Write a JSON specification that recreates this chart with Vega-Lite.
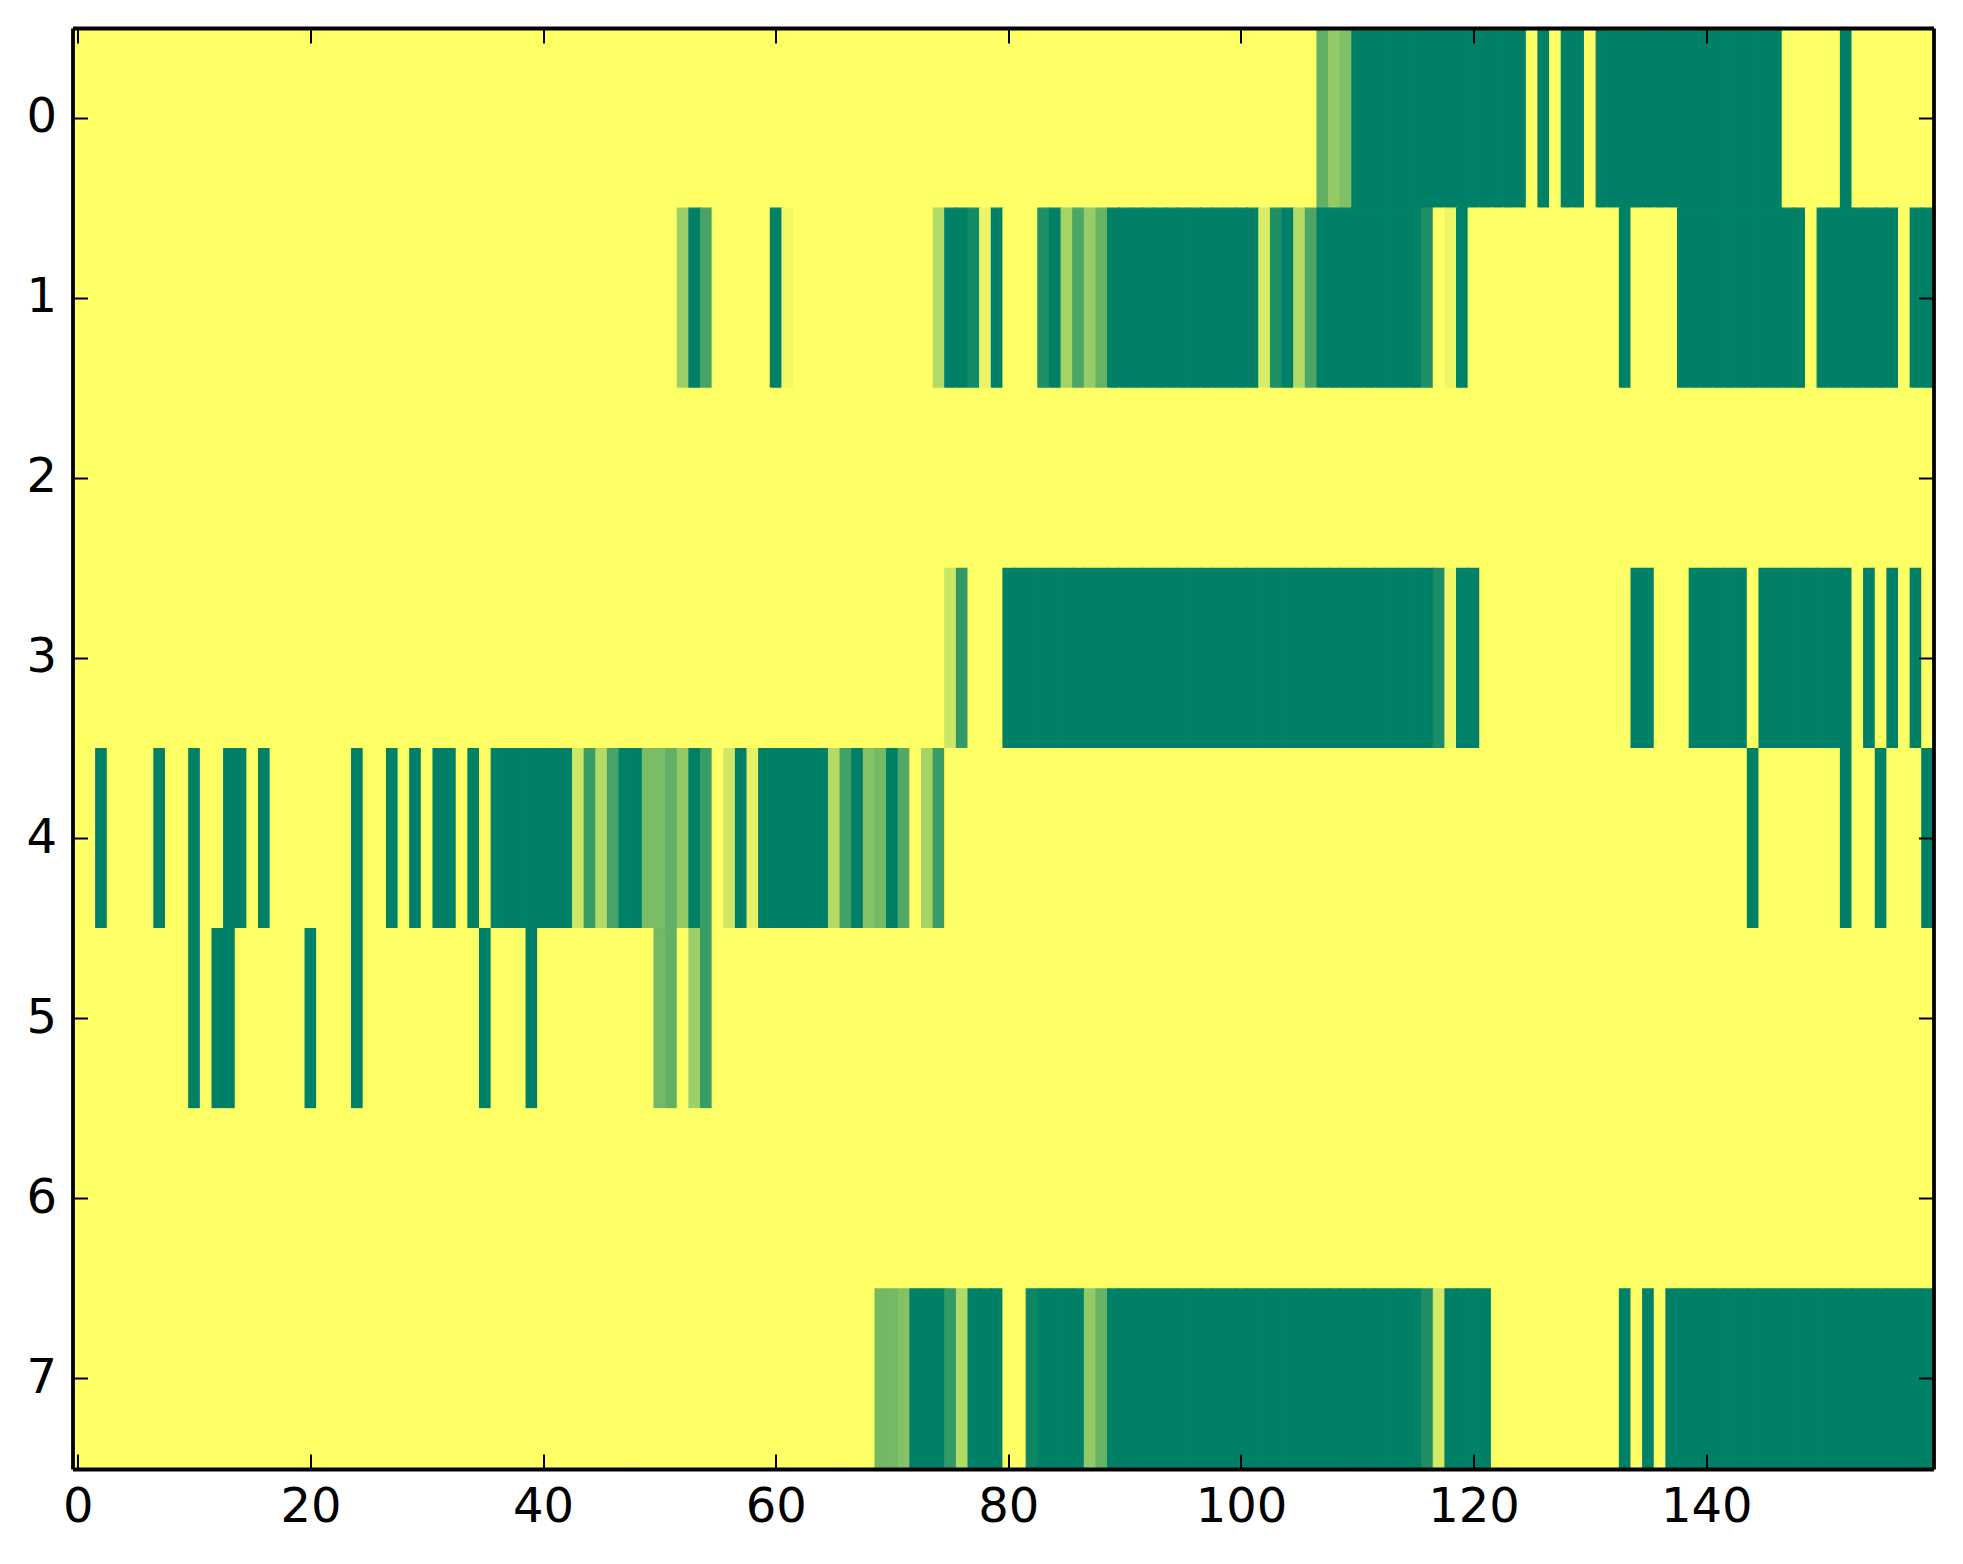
{"$schema":"https://vega.github.io/schema/vega-lite/v6.json","width":1861,"height":1441,"autosize":"none","padding":{"left":72.5,"top":28,"right":29.5,"bottom":95},"background":"white","config":{"view":{"stroke":null},"font":"DejaVu Sans"},"resolve":{"axis":{"x":"independent","y":"independent"}},"layer":[{"data":{"name":"cells"},"mark":{"type":"rect","strokeWidth":1.2},"encoding":{"x":{"field":"x","type":"ordinal","scale":{"paddingInner":0,"paddingOuter":0,"domain":[0,1,2,3,4,5,6,7,8,9,10,11,12,13,14,15,16,17,18,19,20,21,22,23,24,25,26,27,28,29,30,31,32,33,34,35,36,37,38,39,40,41,42,43,44,45,46,47,48,49,50,51,52,53,54,55,56,57,58,59,60,61,62,63,64,65,66,67,68,69,70,71,72,73,74,75,76,77,78,79,80,81,82,83,84,85,86,87,88,89,90,91,92,93,94,95,96,97,98,99,100,101,102,103,104,105,106,107,108,109,110,111,112,113,114,115,116,117,118,119,120,121,122,123,124,125,126,127,128,129,130,131,132,133,134,135,136,137,138,139,140,141,142,143,144,145,146,147,148,149,150,151,152,153,154,155,156,157,158,159]},"axis":{"orient":"bottom","title":null,"values":[0,20,40,60,80,100,120,140],"labelAngle":0,"labelFont":"DejaVu Sans","labelFontSize":48,"labelColor":"black","labelPadding":29,"labelBaseline":"top","tickSize":-15,"tickWidth":2,"tickColor":"black","domainWidth":3.8,"domainColor":"black","zindex":1,"grid":false}},"y":{"field":"y","type":"ordinal","scale":{"paddingInner":0,"paddingOuter":0,"domain":[0,1,2,3,4,5,6,7]},"axis":{"orient":"left","title":null,"labelFont":"DejaVu Sans","labelFontSize":48,"labelColor":"black","labelPadding":31,"tickSize":-15,"tickWidth":2,"tickColor":"black","domainWidth":3.8,"domainColor":"black","zindex":1,"grid":false}},"color":{"field":"v","type":"quantitative","scale":{"domain":[0,1],"range":["#ffff66","#008066"],"interpolate":"rgb"},"legend":null},"stroke":{"field":"v","type":"quantitative","scale":{"domain":[0,1],"range":["#ffff66","#008066"],"interpolate":"rgb"},"legend":null}}},{"data":{"values":[{"x":0,"y":0}]},"mark":{"type":"rect","opacity":0},"encoding":{"x":{"field":"x","type":"ordinal","axis":{"orient":"top","title":null,"values":[0,20,40,60,80,100,120,140],"labels":false,"tickSize":-15,"tickWidth":2,"tickColor":"black","domainWidth":3.8,"domainColor":"black","zindex":1,"grid":false}},"y":{"field":"y","type":"ordinal","axis":{"orient":"right","title":null,"labels":false,"tickSize":-15,"tickWidth":2,"tickColor":"black","domainWidth":3.8,"domainColor":"black","zindex":1,"grid":false}}}}],"datasets":{"cells":[
{"x":0,"y":0,"v":0},{"x":1,"y":0,"v":0},{"x":2,"y":0,"v":0},{"x":3,"y":0,"v":0},{"x":4,"y":0,"v":0},{"x":5,"y":0,"v":0},{"x":6,"y":0,"v":0},{"x":7,"y":0,"v":0},{"x":8,"y":0,"v":0},{"x":9,"y":0,"v":0},{"x":10,"y":0,"v":0},{"x":11,"y":0,"v":0},{"x":12,"y":0,"v":0},{"x":13,"y":0,"v":0},{"x":14,"y":0,"v":0},{"x":15,"y":0,"v":0},{"x":16,"y":0,"v":0},{"x":17,"y":0,"v":0},{"x":18,"y":0,"v":0},{"x":19,"y":0,"v":0},{"x":20,"y":0,"v":0},{"x":21,"y":0,"v":0},{"x":22,"y":0,"v":0},{"x":23,"y":0,"v":0},{"x":24,"y":0,"v":0},{"x":25,"y":0,"v":0},{"x":26,"y":0,"v":0},{"x":27,"y":0,"v":0},{"x":28,"y":0,"v":0},{"x":29,"y":0,"v":0},{"x":30,"y":0,"v":0},{"x":31,"y":0,"v":0},{"x":32,"y":0,"v":0},{"x":33,"y":0,"v":0},{"x":34,"y":0,"v":0},{"x":35,"y":0,"v":0},{"x":36,"y":0,"v":0},{"x":37,"y":0,"v":0},{"x":38,"y":0,"v":0},{"x":39,"y":0,"v":0},{"x":40,"y":0,"v":0},{"x":41,"y":0,"v":0},{"x":42,"y":0,"v":0},{"x":43,"y":0,"v":0},{"x":44,"y":0,"v":0},{"x":45,"y":0,"v":0},{"x":46,"y":0,"v":0},{"x":47,"y":0,"v":0},{"x":48,"y":0,"v":0},{"x":49,"y":0,"v":0},{"x":50,"y":0,"v":0},{"x":51,"y":0,"v":0},{"x":52,"y":0,"v":0},{"x":53,"y":0,"v":0},{"x":54,"y":0,"v":0},{"x":55,"y":0,"v":0},{"x":56,"y":0,"v":0},{"x":57,"y":0,"v":0},{"x":58,"y":0,"v":0},{"x":59,"y":0,"v":0},{"x":60,"y":0,"v":0},{"x":61,"y":0,"v":0},{"x":62,"y":0,"v":0},{"x":63,"y":0,"v":0},{"x":64,"y":0,"v":0},{"x":65,"y":0,"v":0},{"x":66,"y":0,"v":0},{"x":67,"y":0,"v":0},{"x":68,"y":0,"v":0},{"x":69,"y":0,"v":0},{"x":70,"y":0,"v":0},{"x":71,"y":0,"v":0},{"x":72,"y":0,"v":0},{"x":73,"y":0,"v":0},{"x":74,"y":0,"v":0},{"x":75,"y":0,"v":0},{"x":76,"y":0,"v":0},{"x":77,"y":0,"v":0},{"x":78,"y":0,"v":0},{"x":79,"y":0,"v":0},{"x":80,"y":0,"v":0},{"x":81,"y":0,"v":0},{"x":82,"y":0,"v":0},{"x":83,"y":0,"v":0},{"x":84,"y":0,"v":0},{"x":85,"y":0,"v":0},{"x":86,"y":0,"v":0},{"x":87,"y":0,"v":0},{"x":88,"y":0,"v":0},{"x":89,"y":0,"v":0},{"x":90,"y":0,"v":0},{"x":91,"y":0,"v":0},{"x":92,"y":0,"v":0},{"x":93,"y":0,"v":0},{"x":94,"y":0,"v":0},{"x":95,"y":0,"v":0},{"x":96,"y":0,"v":0},{"x":97,"y":0,"v":0},{"x":98,"y":0,"v":0},{"x":99,"y":0,"v":0},{"x":100,"y":0,"v":0},{"x":101,"y":0,"v":0},{"x":102,"y":0,"v":0},{"x":103,"y":0,"v":0},{"x":104,"y":0,"v":0},{"x":105,"y":0,"v":0},{"x":106,"y":0,"v":0},{"x":107,"y":0,"v":0.62},{"x":108,"y":0,"v":0.42},{"x":109,"y":0,"v":0.5},{"x":110,"y":0,"v":1},{"x":111,"y":0,"v":1},{"x":112,"y":0,"v":1},{"x":113,"y":0,"v":1},{"x":114,"y":0,"v":1},{"x":115,"y":0,"v":1},{"x":116,"y":0,"v":1},{"x":117,"y":0,"v":1},{"x":118,"y":0,"v":1},{"x":119,"y":0,"v":1},{"x":120,"y":0,"v":1},{"x":121,"y":0,"v":1},{"x":122,"y":0,"v":1},{"x":123,"y":0,"v":1},{"x":124,"y":0,"v":1},{"x":125,"y":0,"v":0},{"x":126,"y":0,"v":1},{"x":127,"y":0,"v":0},{"x":128,"y":0,"v":1},{"x":129,"y":0,"v":1},{"x":130,"y":0,"v":0},{"x":131,"y":0,"v":1},{"x":132,"y":0,"v":1},{"x":133,"y":0,"v":1},{"x":134,"y":0,"v":1},{"x":135,"y":0,"v":1},{"x":136,"y":0,"v":1},{"x":137,"y":0,"v":1},{"x":138,"y":0,"v":1},{"x":139,"y":0,"v":1},{"x":140,"y":0,"v":1},{"x":141,"y":0,"v":1},{"x":142,"y":0,"v":1},{"x":143,"y":0,"v":1},{"x":144,"y":0,"v":1},{"x":145,"y":0,"v":1},{"x":146,"y":0,"v":1},{"x":147,"y":0,"v":0},{"x":148,"y":0,"v":0},{"x":149,"y":0,"v":0},{"x":150,"y":0,"v":0},{"x":151,"y":0,"v":0},{"x":152,"y":0,"v":1},{"x":153,"y":0,"v":0},{"x":154,"y":0,"v":0},{"x":155,"y":0,"v":0},{"x":156,"y":0,"v":0},{"x":157,"y":0,"v":0},{"x":158,"y":0,"v":0},{"x":159,"y":0,"v":0},
{"x":0,"y":1,"v":0},{"x":1,"y":1,"v":0},{"x":2,"y":1,"v":0},{"x":3,"y":1,"v":0},{"x":4,"y":1,"v":0},{"x":5,"y":1,"v":0},{"x":6,"y":1,"v":0},{"x":7,"y":1,"v":0},{"x":8,"y":1,"v":0},{"x":9,"y":1,"v":0},{"x":10,"y":1,"v":0},{"x":11,"y":1,"v":0},{"x":12,"y":1,"v":0},{"x":13,"y":1,"v":0},{"x":14,"y":1,"v":0},{"x":15,"y":1,"v":0},{"x":16,"y":1,"v":0},{"x":17,"y":1,"v":0},{"x":18,"y":1,"v":0},{"x":19,"y":1,"v":0},{"x":20,"y":1,"v":0},{"x":21,"y":1,"v":0},{"x":22,"y":1,"v":0},{"x":23,"y":1,"v":0},{"x":24,"y":1,"v":0},{"x":25,"y":1,"v":0},{"x":26,"y":1,"v":0},{"x":27,"y":1,"v":0},{"x":28,"y":1,"v":0},{"x":29,"y":1,"v":0},{"x":30,"y":1,"v":0},{"x":31,"y":1,"v":0},{"x":32,"y":1,"v":0},{"x":33,"y":1,"v":0},{"x":34,"y":1,"v":0},{"x":35,"y":1,"v":0},{"x":36,"y":1,"v":0},{"x":37,"y":1,"v":0},{"x":38,"y":1,"v":0},{"x":39,"y":1,"v":0},{"x":40,"y":1,"v":0},{"x":41,"y":1,"v":0},{"x":42,"y":1,"v":0},{"x":43,"y":1,"v":0},{"x":44,"y":1,"v":0},{"x":45,"y":1,"v":0},{"x":46,"y":1,"v":0},{"x":47,"y":1,"v":0},{"x":48,"y":1,"v":0},{"x":49,"y":1,"v":0},{"x":50,"y":1,"v":0},{"x":51,"y":1,"v":0},{"x":52,"y":1,"v":0.38},{"x":53,"y":1,"v":1},{"x":54,"y":1,"v":0.72},{"x":55,"y":1,"v":0},{"x":56,"y":1,"v":0},{"x":57,"y":1,"v":0},{"x":58,"y":1,"v":0},{"x":59,"y":1,"v":0},{"x":60,"y":1,"v":1},{"x":61,"y":1,"v":0.05},{"x":62,"y":1,"v":0},{"x":63,"y":1,"v":0},{"x":64,"y":1,"v":0},{"x":65,"y":1,"v":0},{"x":66,"y":1,"v":0},{"x":67,"y":1,"v":0},{"x":68,"y":1,"v":0},{"x":69,"y":1,"v":0},{"x":70,"y":1,"v":0},{"x":71,"y":1,"v":0},{"x":72,"y":1,"v":0},{"x":73,"y":1,"v":0},{"x":74,"y":1,"v":0.3},{"x":75,"y":1,"v":1},{"x":76,"y":1,"v":1},{"x":77,"y":1,"v":0.92},{"x":78,"y":1,"v":0.08},{"x":79,"y":1,"v":1},{"x":80,"y":1,"v":0},{"x":81,"y":1,"v":0},{"x":82,"y":1,"v":0},{"x":83,"y":1,"v":0.88},{"x":84,"y":1,"v":1},{"x":85,"y":1,"v":0.35},{"x":86,"y":1,"v":0.7},{"x":87,"y":1,"v":0.4},{"x":88,"y":1,"v":0.6},{"x":89,"y":1,"v":1},{"x":90,"y":1,"v":1},{"x":91,"y":1,"v":1},{"x":92,"y":1,"v":1},{"x":93,"y":1,"v":1},{"x":94,"y":1,"v":1},{"x":95,"y":1,"v":1},{"x":96,"y":1,"v":1},{"x":97,"y":1,"v":1},{"x":98,"y":1,"v":1},{"x":99,"y":1,"v":1},{"x":100,"y":1,"v":1},{"x":101,"y":1,"v":1},{"x":102,"y":1,"v":0.15},{"x":103,"y":1,"v":0.88},{"x":104,"y":1,"v":1},{"x":105,"y":1,"v":0.3},{"x":106,"y":1,"v":0.7},{"x":107,"y":1,"v":1},{"x":108,"y":1,"v":1},{"x":109,"y":1,"v":1},{"x":110,"y":1,"v":1},{"x":111,"y":1,"v":1},{"x":112,"y":1,"v":1},{"x":113,"y":1,"v":1},{"x":114,"y":1,"v":1},{"x":115,"y":1,"v":1},{"x":116,"y":1,"v":0.88},{"x":117,"y":1,"v":0},{"x":118,"y":1,"v":0.07},{"x":119,"y":1,"v":1},{"x":120,"y":1,"v":0},{"x":121,"y":1,"v":0},{"x":122,"y":1,"v":0},{"x":123,"y":1,"v":0},{"x":124,"y":1,"v":0},{"x":125,"y":1,"v":0},{"x":126,"y":1,"v":0},{"x":127,"y":1,"v":0},{"x":128,"y":1,"v":0},{"x":129,"y":1,"v":0},{"x":130,"y":1,"v":0},{"x":131,"y":1,"v":0},{"x":132,"y":1,"v":0},{"x":133,"y":1,"v":1},{"x":134,"y":1,"v":0},{"x":135,"y":1,"v":0},{"x":136,"y":1,"v":0},{"x":137,"y":1,"v":0},{"x":138,"y":1,"v":1},{"x":139,"y":1,"v":1},{"x":140,"y":1,"v":1},{"x":141,"y":1,"v":1},{"x":142,"y":1,"v":1},{"x":143,"y":1,"v":1},{"x":144,"y":1,"v":1},{"x":145,"y":1,"v":1},{"x":146,"y":1,"v":1},{"x":147,"y":1,"v":1},{"x":148,"y":1,"v":1},{"x":149,"y":1,"v":0},{"x":150,"y":1,"v":1},{"x":151,"y":1,"v":1},{"x":152,"y":1,"v":1},{"x":153,"y":1,"v":1},{"x":154,"y":1,"v":1},{"x":155,"y":1,"v":1},{"x":156,"y":1,"v":1},{"x":157,"y":1,"v":0},{"x":158,"y":1,"v":1},{"x":159,"y":1,"v":1},
{"x":0,"y":2,"v":0},{"x":1,"y":2,"v":0},{"x":2,"y":2,"v":0},{"x":3,"y":2,"v":0},{"x":4,"y":2,"v":0},{"x":5,"y":2,"v":0},{"x":6,"y":2,"v":0},{"x":7,"y":2,"v":0},{"x":8,"y":2,"v":0},{"x":9,"y":2,"v":0},{"x":10,"y":2,"v":0},{"x":11,"y":2,"v":0},{"x":12,"y":2,"v":0},{"x":13,"y":2,"v":0},{"x":14,"y":2,"v":0},{"x":15,"y":2,"v":0},{"x":16,"y":2,"v":0},{"x":17,"y":2,"v":0},{"x":18,"y":2,"v":0},{"x":19,"y":2,"v":0},{"x":20,"y":2,"v":0},{"x":21,"y":2,"v":0},{"x":22,"y":2,"v":0},{"x":23,"y":2,"v":0},{"x":24,"y":2,"v":0},{"x":25,"y":2,"v":0},{"x":26,"y":2,"v":0},{"x":27,"y":2,"v":0},{"x":28,"y":2,"v":0},{"x":29,"y":2,"v":0},{"x":30,"y":2,"v":0},{"x":31,"y":2,"v":0},{"x":32,"y":2,"v":0},{"x":33,"y":2,"v":0},{"x":34,"y":2,"v":0},{"x":35,"y":2,"v":0},{"x":36,"y":2,"v":0},{"x":37,"y":2,"v":0},{"x":38,"y":2,"v":0},{"x":39,"y":2,"v":0},{"x":40,"y":2,"v":0},{"x":41,"y":2,"v":0},{"x":42,"y":2,"v":0},{"x":43,"y":2,"v":0},{"x":44,"y":2,"v":0},{"x":45,"y":2,"v":0},{"x":46,"y":2,"v":0},{"x":47,"y":2,"v":0},{"x":48,"y":2,"v":0},{"x":49,"y":2,"v":0},{"x":50,"y":2,"v":0},{"x":51,"y":2,"v":0},{"x":52,"y":2,"v":0},{"x":53,"y":2,"v":0},{"x":54,"y":2,"v":0},{"x":55,"y":2,"v":0},{"x":56,"y":2,"v":0},{"x":57,"y":2,"v":0},{"x":58,"y":2,"v":0},{"x":59,"y":2,"v":0},{"x":60,"y":2,"v":0},{"x":61,"y":2,"v":0},{"x":62,"y":2,"v":0},{"x":63,"y":2,"v":0},{"x":64,"y":2,"v":0},{"x":65,"y":2,"v":0},{"x":66,"y":2,"v":0},{"x":67,"y":2,"v":0},{"x":68,"y":2,"v":0},{"x":69,"y":2,"v":0},{"x":70,"y":2,"v":0},{"x":71,"y":2,"v":0},{"x":72,"y":2,"v":0},{"x":73,"y":2,"v":0},{"x":74,"y":2,"v":0},{"x":75,"y":2,"v":0},{"x":76,"y":2,"v":0},{"x":77,"y":2,"v":0},{"x":78,"y":2,"v":0},{"x":79,"y":2,"v":0},{"x":80,"y":2,"v":0},{"x":81,"y":2,"v":0},{"x":82,"y":2,"v":0},{"x":83,"y":2,"v":0},{"x":84,"y":2,"v":0},{"x":85,"y":2,"v":0},{"x":86,"y":2,"v":0},{"x":87,"y":2,"v":0},{"x":88,"y":2,"v":0},{"x":89,"y":2,"v":0},{"x":90,"y":2,"v":0},{"x":91,"y":2,"v":0},{"x":92,"y":2,"v":0},{"x":93,"y":2,"v":0},{"x":94,"y":2,"v":0},{"x":95,"y":2,"v":0},{"x":96,"y":2,"v":0},{"x":97,"y":2,"v":0},{"x":98,"y":2,"v":0},{"x":99,"y":2,"v":0},{"x":100,"y":2,"v":0},{"x":101,"y":2,"v":0},{"x":102,"y":2,"v":0},{"x":103,"y":2,"v":0},{"x":104,"y":2,"v":0},{"x":105,"y":2,"v":0},{"x":106,"y":2,"v":0},{"x":107,"y":2,"v":0},{"x":108,"y":2,"v":0},{"x":109,"y":2,"v":0},{"x":110,"y":2,"v":0},{"x":111,"y":2,"v":0},{"x":112,"y":2,"v":0},{"x":113,"y":2,"v":0},{"x":114,"y":2,"v":0},{"x":115,"y":2,"v":0},{"x":116,"y":2,"v":0},{"x":117,"y":2,"v":0},{"x":118,"y":2,"v":0},{"x":119,"y":2,"v":0},{"x":120,"y":2,"v":0},{"x":121,"y":2,"v":0},{"x":122,"y":2,"v":0},{"x":123,"y":2,"v":0},{"x":124,"y":2,"v":0},{"x":125,"y":2,"v":0},{"x":126,"y":2,"v":0},{"x":127,"y":2,"v":0},{"x":128,"y":2,"v":0},{"x":129,"y":2,"v":0},{"x":130,"y":2,"v":0},{"x":131,"y":2,"v":0},{"x":132,"y":2,"v":0},{"x":133,"y":2,"v":0},{"x":134,"y":2,"v":0},{"x":135,"y":2,"v":0},{"x":136,"y":2,"v":0},{"x":137,"y":2,"v":0},{"x":138,"y":2,"v":0},{"x":139,"y":2,"v":0},{"x":140,"y":2,"v":0},{"x":141,"y":2,"v":0},{"x":142,"y":2,"v":0},{"x":143,"y":2,"v":0},{"x":144,"y":2,"v":0},{"x":145,"y":2,"v":0},{"x":146,"y":2,"v":0},{"x":147,"y":2,"v":0},{"x":148,"y":2,"v":0},{"x":149,"y":2,"v":0},{"x":150,"y":2,"v":0},{"x":151,"y":2,"v":0},{"x":152,"y":2,"v":0},{"x":153,"y":2,"v":0},{"x":154,"y":2,"v":0},{"x":155,"y":2,"v":0},{"x":156,"y":2,"v":0},{"x":157,"y":2,"v":0},{"x":158,"y":2,"v":0},{"x":159,"y":2,"v":0},
{"x":0,"y":3,"v":0},{"x":1,"y":3,"v":0},{"x":2,"y":3,"v":0},{"x":3,"y":3,"v":0},{"x":4,"y":3,"v":0},{"x":5,"y":3,"v":0},{"x":6,"y":3,"v":0},{"x":7,"y":3,"v":0},{"x":8,"y":3,"v":0},{"x":9,"y":3,"v":0},{"x":10,"y":3,"v":0},{"x":11,"y":3,"v":0},{"x":12,"y":3,"v":0},{"x":13,"y":3,"v":0},{"x":14,"y":3,"v":0},{"x":15,"y":3,"v":0},{"x":16,"y":3,"v":0},{"x":17,"y":3,"v":0},{"x":18,"y":3,"v":0},{"x":19,"y":3,"v":0},{"x":20,"y":3,"v":0},{"x":21,"y":3,"v":0},{"x":22,"y":3,"v":0},{"x":23,"y":3,"v":0},{"x":24,"y":3,"v":0},{"x":25,"y":3,"v":0},{"x":26,"y":3,"v":0},{"x":27,"y":3,"v":0},{"x":28,"y":3,"v":0},{"x":29,"y":3,"v":0},{"x":30,"y":3,"v":0},{"x":31,"y":3,"v":0},{"x":32,"y":3,"v":0},{"x":33,"y":3,"v":0},{"x":34,"y":3,"v":0},{"x":35,"y":3,"v":0},{"x":36,"y":3,"v":0},{"x":37,"y":3,"v":0},{"x":38,"y":3,"v":0},{"x":39,"y":3,"v":0},{"x":40,"y":3,"v":0},{"x":41,"y":3,"v":0},{"x":42,"y":3,"v":0},{"x":43,"y":3,"v":0},{"x":44,"y":3,"v":0},{"x":45,"y":3,"v":0},{"x":46,"y":3,"v":0},{"x":47,"y":3,"v":0},{"x":48,"y":3,"v":0},{"x":49,"y":3,"v":0},{"x":50,"y":3,"v":0},{"x":51,"y":3,"v":0},{"x":52,"y":3,"v":0},{"x":53,"y":3,"v":0},{"x":54,"y":3,"v":0},{"x":55,"y":3,"v":0},{"x":56,"y":3,"v":0},{"x":57,"y":3,"v":0},{"x":58,"y":3,"v":0},{"x":59,"y":3,"v":0},{"x":60,"y":3,"v":0},{"x":61,"y":3,"v":0},{"x":62,"y":3,"v":0},{"x":63,"y":3,"v":0},{"x":64,"y":3,"v":0},{"x":65,"y":3,"v":0},{"x":66,"y":3,"v":0},{"x":67,"y":3,"v":0},{"x":68,"y":3,"v":0},{"x":69,"y":3,"v":0},{"x":70,"y":3,"v":0},{"x":71,"y":3,"v":0},{"x":72,"y":3,"v":0},{"x":73,"y":3,"v":0},{"x":74,"y":3,"v":0},{"x":75,"y":3,"v":0.2},{"x":76,"y":3,"v":0.8},{"x":77,"y":3,"v":0},{"x":78,"y":3,"v":0},{"x":79,"y":3,"v":0},{"x":80,"y":3,"v":1},{"x":81,"y":3,"v":1},{"x":82,"y":3,"v":1},{"x":83,"y":3,"v":1},{"x":84,"y":3,"v":1},{"x":85,"y":3,"v":1},{"x":86,"y":3,"v":1},{"x":87,"y":3,"v":1},{"x":88,"y":3,"v":1},{"x":89,"y":3,"v":1},{"x":90,"y":3,"v":1},{"x":91,"y":3,"v":1},{"x":92,"y":3,"v":1},{"x":93,"y":3,"v":1},{"x":94,"y":3,"v":1},{"x":95,"y":3,"v":1},{"x":96,"y":3,"v":1},{"x":97,"y":3,"v":1},{"x":98,"y":3,"v":1},{"x":99,"y":3,"v":1},{"x":100,"y":3,"v":1},{"x":101,"y":3,"v":1},{"x":102,"y":3,"v":1},{"x":103,"y":3,"v":1},{"x":104,"y":3,"v":1},{"x":105,"y":3,"v":1},{"x":106,"y":3,"v":1},{"x":107,"y":3,"v":1},{"x":108,"y":3,"v":1},{"x":109,"y":3,"v":1},{"x":110,"y":3,"v":1},{"x":111,"y":3,"v":1},{"x":112,"y":3,"v":1},{"x":113,"y":3,"v":1},{"x":114,"y":3,"v":1},{"x":115,"y":3,"v":1},{"x":116,"y":3,"v":1},{"x":117,"y":3,"v":0.9},{"x":118,"y":3,"v":0.06},{"x":119,"y":3,"v":1},{"x":120,"y":3,"v":1},{"x":121,"y":3,"v":0},{"x":122,"y":3,"v":0},{"x":123,"y":3,"v":0},{"x":124,"y":3,"v":0},{"x":125,"y":3,"v":0},{"x":126,"y":3,"v":0},{"x":127,"y":3,"v":0},{"x":128,"y":3,"v":0},{"x":129,"y":3,"v":0},{"x":130,"y":3,"v":0},{"x":131,"y":3,"v":0},{"x":132,"y":3,"v":0},{"x":133,"y":3,"v":0},{"x":134,"y":3,"v":1},{"x":135,"y":3,"v":1},{"x":136,"y":3,"v":0},{"x":137,"y":3,"v":0},{"x":138,"y":3,"v":0},{"x":139,"y":3,"v":1},{"x":140,"y":3,"v":1},{"x":141,"y":3,"v":1},{"x":142,"y":3,"v":1},{"x":143,"y":3,"v":1},{"x":144,"y":3,"v":0},{"x":145,"y":3,"v":1},{"x":146,"y":3,"v":1},{"x":147,"y":3,"v":1},{"x":148,"y":3,"v":1},{"x":149,"y":3,"v":1},{"x":150,"y":3,"v":1},{"x":151,"y":3,"v":1},{"x":152,"y":3,"v":1},{"x":153,"y":3,"v":0},{"x":154,"y":3,"v":1},{"x":155,"y":3,"v":0},{"x":156,"y":3,"v":1},{"x":157,"y":3,"v":0},{"x":158,"y":3,"v":1},{"x":159,"y":3,"v":0},
{"x":0,"y":4,"v":0},{"x":1,"y":4,"v":0},{"x":2,"y":4,"v":1},{"x":3,"y":4,"v":0},{"x":4,"y":4,"v":0},{"x":5,"y":4,"v":0},{"x":6,"y":4,"v":0},{"x":7,"y":4,"v":1},{"x":8,"y":4,"v":0},{"x":9,"y":4,"v":0},{"x":10,"y":4,"v":1},{"x":11,"y":4,"v":0},{"x":12,"y":4,"v":0},{"x":13,"y":4,"v":1},{"x":14,"y":4,"v":1},{"x":15,"y":4,"v":0},{"x":16,"y":4,"v":1},{"x":17,"y":4,"v":0},{"x":18,"y":4,"v":0},{"x":19,"y":4,"v":0},{"x":20,"y":4,"v":0},{"x":21,"y":4,"v":0},{"x":22,"y":4,"v":0},{"x":23,"y":4,"v":0},{"x":24,"y":4,"v":1},{"x":25,"y":4,"v":0},{"x":26,"y":4,"v":0},{"x":27,"y":4,"v":1},{"x":28,"y":4,"v":0},{"x":29,"y":4,"v":1},{"x":30,"y":4,"v":0},{"x":31,"y":4,"v":1},{"x":32,"y":4,"v":1},{"x":33,"y":4,"v":0},{"x":34,"y":4,"v":1},{"x":35,"y":4,"v":0},{"x":36,"y":4,"v":1},{"x":37,"y":4,"v":1},{"x":38,"y":4,"v":1},{"x":39,"y":4,"v":1},{"x":40,"y":4,"v":1},{"x":41,"y":4,"v":1},{"x":42,"y":4,"v":1},{"x":43,"y":4,"v":0.2},{"x":44,"y":4,"v":0.78},{"x":45,"y":4,"v":0.3},{"x":46,"y":4,"v":0.72},{"x":47,"y":4,"v":1},{"x":48,"y":4,"v":1},{"x":49,"y":4,"v":0.52},{"x":50,"y":4,"v":0.52},{"x":51,"y":4,"v":0.62},{"x":52,"y":4,"v":0.42},{"x":53,"y":4,"v":1},{"x":54,"y":4,"v":0.78},{"x":55,"y":4,"v":0},{"x":56,"y":4,"v":0.18},{"x":57,"y":4,"v":1},{"x":58,"y":4,"v":0.1},{"x":59,"y":4,"v":1},{"x":60,"y":4,"v":1},{"x":61,"y":4,"v":1},{"x":62,"y":4,"v":1},{"x":63,"y":4,"v":1},{"x":64,"y":4,"v":1},{"x":65,"y":4,"v":0.3},{"x":66,"y":4,"v":0.75},{"x":67,"y":4,"v":1},{"x":68,"y":4,"v":0.48},{"x":69,"y":4,"v":0.55},{"x":70,"y":4,"v":1},{"x":71,"y":4,"v":0.68},{"x":72,"y":4,"v":0},{"x":73,"y":4,"v":0.35},{"x":74,"y":4,"v":0.78},{"x":75,"y":4,"v":0},{"x":76,"y":4,"v":0},{"x":77,"y":4,"v":0},{"x":78,"y":4,"v":0},{"x":79,"y":4,"v":0},{"x":80,"y":4,"v":0},{"x":81,"y":4,"v":0},{"x":82,"y":4,"v":0},{"x":83,"y":4,"v":0},{"x":84,"y":4,"v":0},{"x":85,"y":4,"v":0},{"x":86,"y":4,"v":0},{"x":87,"y":4,"v":0},{"x":88,"y":4,"v":0},{"x":89,"y":4,"v":0},{"x":90,"y":4,"v":0},{"x":91,"y":4,"v":0},{"x":92,"y":4,"v":0},{"x":93,"y":4,"v":0},{"x":94,"y":4,"v":0},{"x":95,"y":4,"v":0},{"x":96,"y":4,"v":0},{"x":97,"y":4,"v":0},{"x":98,"y":4,"v":0},{"x":99,"y":4,"v":0},{"x":100,"y":4,"v":0},{"x":101,"y":4,"v":0},{"x":102,"y":4,"v":0},{"x":103,"y":4,"v":0},{"x":104,"y":4,"v":0},{"x":105,"y":4,"v":0},{"x":106,"y":4,"v":0},{"x":107,"y":4,"v":0},{"x":108,"y":4,"v":0},{"x":109,"y":4,"v":0},{"x":110,"y":4,"v":0},{"x":111,"y":4,"v":0},{"x":112,"y":4,"v":0},{"x":113,"y":4,"v":0},{"x":114,"y":4,"v":0},{"x":115,"y":4,"v":0},{"x":116,"y":4,"v":0},{"x":117,"y":4,"v":0},{"x":118,"y":4,"v":0},{"x":119,"y":4,"v":0},{"x":120,"y":4,"v":0},{"x":121,"y":4,"v":0},{"x":122,"y":4,"v":0},{"x":123,"y":4,"v":0},{"x":124,"y":4,"v":0},{"x":125,"y":4,"v":0},{"x":126,"y":4,"v":0},{"x":127,"y":4,"v":0},{"x":128,"y":4,"v":0},{"x":129,"y":4,"v":0},{"x":130,"y":4,"v":0},{"x":131,"y":4,"v":0},{"x":132,"y":4,"v":0},{"x":133,"y":4,"v":0},{"x":134,"y":4,"v":0},{"x":135,"y":4,"v":0},{"x":136,"y":4,"v":0},{"x":137,"y":4,"v":0},{"x":138,"y":4,"v":0},{"x":139,"y":4,"v":0},{"x":140,"y":4,"v":0},{"x":141,"y":4,"v":0},{"x":142,"y":4,"v":0},{"x":143,"y":4,"v":0},{"x":144,"y":4,"v":1},{"x":145,"y":4,"v":0},{"x":146,"y":4,"v":0},{"x":147,"y":4,"v":0},{"x":148,"y":4,"v":0},{"x":149,"y":4,"v":0},{"x":150,"y":4,"v":0},{"x":151,"y":4,"v":0},{"x":152,"y":4,"v":1},{"x":153,"y":4,"v":0},{"x":154,"y":4,"v":0},{"x":155,"y":4,"v":1},{"x":156,"y":4,"v":0},{"x":157,"y":4,"v":0},{"x":158,"y":4,"v":0},{"x":159,"y":4,"v":1},
{"x":0,"y":5,"v":0},{"x":1,"y":5,"v":0},{"x":2,"y":5,"v":0},{"x":3,"y":5,"v":0},{"x":4,"y":5,"v":0},{"x":5,"y":5,"v":0},{"x":6,"y":5,"v":0},{"x":7,"y":5,"v":0},{"x":8,"y":5,"v":0},{"x":9,"y":5,"v":0},{"x":10,"y":5,"v":1},{"x":11,"y":5,"v":0},{"x":12,"y":5,"v":1},{"x":13,"y":5,"v":1},{"x":14,"y":5,"v":0},{"x":15,"y":5,"v":0},{"x":16,"y":5,"v":0},{"x":17,"y":5,"v":0},{"x":18,"y":5,"v":0},{"x":19,"y":5,"v":0},{"x":20,"y":5,"v":1},{"x":21,"y":5,"v":0},{"x":22,"y":5,"v":0},{"x":23,"y":5,"v":0},{"x":24,"y":5,"v":1},{"x":25,"y":5,"v":0},{"x":26,"y":5,"v":0},{"x":27,"y":5,"v":0},{"x":28,"y":5,"v":0},{"x":29,"y":5,"v":0},{"x":30,"y":5,"v":0},{"x":31,"y":5,"v":0},{"x":32,"y":5,"v":0},{"x":33,"y":5,"v":0},{"x":34,"y":5,"v":0},{"x":35,"y":5,"v":1},{"x":36,"y":5,"v":0},{"x":37,"y":5,"v":0},{"x":38,"y":5,"v":0},{"x":39,"y":5,"v":1},{"x":40,"y":5,"v":0},{"x":41,"y":5,"v":0},{"x":42,"y":5,"v":0},{"x":43,"y":5,"v":0},{"x":44,"y":5,"v":0},{"x":45,"y":5,"v":0},{"x":46,"y":5,"v":0},{"x":47,"y":5,"v":0},{"x":48,"y":5,"v":0},{"x":49,"y":5,"v":0},{"x":50,"y":5,"v":0.55},{"x":51,"y":5,"v":0.62},{"x":52,"y":5,"v":0},{"x":53,"y":5,"v":0.38},{"x":54,"y":5,"v":0.78},{"x":55,"y":5,"v":0},{"x":56,"y":5,"v":0},{"x":57,"y":5,"v":0},{"x":58,"y":5,"v":0},{"x":59,"y":5,"v":0},{"x":60,"y":5,"v":0},{"x":61,"y":5,"v":0},{"x":62,"y":5,"v":0},{"x":63,"y":5,"v":0},{"x":64,"y":5,"v":0},{"x":65,"y":5,"v":0},{"x":66,"y":5,"v":0},{"x":67,"y":5,"v":0},{"x":68,"y":5,"v":0},{"x":69,"y":5,"v":0},{"x":70,"y":5,"v":0},{"x":71,"y":5,"v":0},{"x":72,"y":5,"v":0},{"x":73,"y":5,"v":0},{"x":74,"y":5,"v":0},{"x":75,"y":5,"v":0},{"x":76,"y":5,"v":0},{"x":77,"y":5,"v":0},{"x":78,"y":5,"v":0},{"x":79,"y":5,"v":0},{"x":80,"y":5,"v":0},{"x":81,"y":5,"v":0},{"x":82,"y":5,"v":0},{"x":83,"y":5,"v":0},{"x":84,"y":5,"v":0},{"x":85,"y":5,"v":0},{"x":86,"y":5,"v":0},{"x":87,"y":5,"v":0},{"x":88,"y":5,"v":0},{"x":89,"y":5,"v":0},{"x":90,"y":5,"v":0},{"x":91,"y":5,"v":0},{"x":92,"y":5,"v":0},{"x":93,"y":5,"v":0},{"x":94,"y":5,"v":0},{"x":95,"y":5,"v":0},{"x":96,"y":5,"v":0},{"x":97,"y":5,"v":0},{"x":98,"y":5,"v":0},{"x":99,"y":5,"v":0},{"x":100,"y":5,"v":0},{"x":101,"y":5,"v":0},{"x":102,"y":5,"v":0},{"x":103,"y":5,"v":0},{"x":104,"y":5,"v":0},{"x":105,"y":5,"v":0},{"x":106,"y":5,"v":0},{"x":107,"y":5,"v":0},{"x":108,"y":5,"v":0},{"x":109,"y":5,"v":0},{"x":110,"y":5,"v":0},{"x":111,"y":5,"v":0},{"x":112,"y":5,"v":0},{"x":113,"y":5,"v":0},{"x":114,"y":5,"v":0},{"x":115,"y":5,"v":0},{"x":116,"y":5,"v":0},{"x":117,"y":5,"v":0},{"x":118,"y":5,"v":0},{"x":119,"y":5,"v":0},{"x":120,"y":5,"v":0},{"x":121,"y":5,"v":0},{"x":122,"y":5,"v":0},{"x":123,"y":5,"v":0},{"x":124,"y":5,"v":0},{"x":125,"y":5,"v":0},{"x":126,"y":5,"v":0},{"x":127,"y":5,"v":0},{"x":128,"y":5,"v":0},{"x":129,"y":5,"v":0},{"x":130,"y":5,"v":0},{"x":131,"y":5,"v":0},{"x":132,"y":5,"v":0},{"x":133,"y":5,"v":0},{"x":134,"y":5,"v":0},{"x":135,"y":5,"v":0},{"x":136,"y":5,"v":0},{"x":137,"y":5,"v":0},{"x":138,"y":5,"v":0},{"x":139,"y":5,"v":0},{"x":140,"y":5,"v":0},{"x":141,"y":5,"v":0},{"x":142,"y":5,"v":0},{"x":143,"y":5,"v":0},{"x":144,"y":5,"v":0},{"x":145,"y":5,"v":0},{"x":146,"y":5,"v":0},{"x":147,"y":5,"v":0},{"x":148,"y":5,"v":0},{"x":149,"y":5,"v":0},{"x":150,"y":5,"v":0},{"x":151,"y":5,"v":0},{"x":152,"y":5,"v":0},{"x":153,"y":5,"v":0},{"x":154,"y":5,"v":0},{"x":155,"y":5,"v":0},{"x":156,"y":5,"v":0},{"x":157,"y":5,"v":0},{"x":158,"y":5,"v":0},{"x":159,"y":5,"v":0},
{"x":0,"y":6,"v":0},{"x":1,"y":6,"v":0},{"x":2,"y":6,"v":0},{"x":3,"y":6,"v":0},{"x":4,"y":6,"v":0},{"x":5,"y":6,"v":0},{"x":6,"y":6,"v":0},{"x":7,"y":6,"v":0},{"x":8,"y":6,"v":0},{"x":9,"y":6,"v":0},{"x":10,"y":6,"v":0},{"x":11,"y":6,"v":0},{"x":12,"y":6,"v":0},{"x":13,"y":6,"v":0},{"x":14,"y":6,"v":0},{"x":15,"y":6,"v":0},{"x":16,"y":6,"v":0},{"x":17,"y":6,"v":0},{"x":18,"y":6,"v":0},{"x":19,"y":6,"v":0},{"x":20,"y":6,"v":0},{"x":21,"y":6,"v":0},{"x":22,"y":6,"v":0},{"x":23,"y":6,"v":0},{"x":24,"y":6,"v":0},{"x":25,"y":6,"v":0},{"x":26,"y":6,"v":0},{"x":27,"y":6,"v":0},{"x":28,"y":6,"v":0},{"x":29,"y":6,"v":0},{"x":30,"y":6,"v":0},{"x":31,"y":6,"v":0},{"x":32,"y":6,"v":0},{"x":33,"y":6,"v":0},{"x":34,"y":6,"v":0},{"x":35,"y":6,"v":0},{"x":36,"y":6,"v":0},{"x":37,"y":6,"v":0},{"x":38,"y":6,"v":0},{"x":39,"y":6,"v":0},{"x":40,"y":6,"v":0},{"x":41,"y":6,"v":0},{"x":42,"y":6,"v":0},{"x":43,"y":6,"v":0},{"x":44,"y":6,"v":0},{"x":45,"y":6,"v":0},{"x":46,"y":6,"v":0},{"x":47,"y":6,"v":0},{"x":48,"y":6,"v":0},{"x":49,"y":6,"v":0},{"x":50,"y":6,"v":0},{"x":51,"y":6,"v":0},{"x":52,"y":6,"v":0},{"x":53,"y":6,"v":0},{"x":54,"y":6,"v":0},{"x":55,"y":6,"v":0},{"x":56,"y":6,"v":0},{"x":57,"y":6,"v":0},{"x":58,"y":6,"v":0},{"x":59,"y":6,"v":0},{"x":60,"y":6,"v":0},{"x":61,"y":6,"v":0},{"x":62,"y":6,"v":0},{"x":63,"y":6,"v":0},{"x":64,"y":6,"v":0},{"x":65,"y":6,"v":0},{"x":66,"y":6,"v":0},{"x":67,"y":6,"v":0},{"x":68,"y":6,"v":0},{"x":69,"y":6,"v":0},{"x":70,"y":6,"v":0},{"x":71,"y":6,"v":0},{"x":72,"y":6,"v":0},{"x":73,"y":6,"v":0},{"x":74,"y":6,"v":0},{"x":75,"y":6,"v":0},{"x":76,"y":6,"v":0},{"x":77,"y":6,"v":0},{"x":78,"y":6,"v":0},{"x":79,"y":6,"v":0},{"x":80,"y":6,"v":0},{"x":81,"y":6,"v":0},{"x":82,"y":6,"v":0},{"x":83,"y":6,"v":0},{"x":84,"y":6,"v":0},{"x":85,"y":6,"v":0},{"x":86,"y":6,"v":0},{"x":87,"y":6,"v":0},{"x":88,"y":6,"v":0},{"x":89,"y":6,"v":0},{"x":90,"y":6,"v":0},{"x":91,"y":6,"v":0},{"x":92,"y":6,"v":0},{"x":93,"y":6,"v":0},{"x":94,"y":6,"v":0},{"x":95,"y":6,"v":0},{"x":96,"y":6,"v":0},{"x":97,"y":6,"v":0},{"x":98,"y":6,"v":0},{"x":99,"y":6,"v":0},{"x":100,"y":6,"v":0},{"x":101,"y":6,"v":0},{"x":102,"y":6,"v":0},{"x":103,"y":6,"v":0},{"x":104,"y":6,"v":0},{"x":105,"y":6,"v":0},{"x":106,"y":6,"v":0},{"x":107,"y":6,"v":0},{"x":108,"y":6,"v":0},{"x":109,"y":6,"v":0},{"x":110,"y":6,"v":0},{"x":111,"y":6,"v":0},{"x":112,"y":6,"v":0},{"x":113,"y":6,"v":0},{"x":114,"y":6,"v":0},{"x":115,"y":6,"v":0},{"x":116,"y":6,"v":0},{"x":117,"y":6,"v":0},{"x":118,"y":6,"v":0},{"x":119,"y":6,"v":0},{"x":120,"y":6,"v":0},{"x":121,"y":6,"v":0},{"x":122,"y":6,"v":0},{"x":123,"y":6,"v":0},{"x":124,"y":6,"v":0},{"x":125,"y":6,"v":0},{"x":126,"y":6,"v":0},{"x":127,"y":6,"v":0},{"x":128,"y":6,"v":0},{"x":129,"y":6,"v":0},{"x":130,"y":6,"v":0},{"x":131,"y":6,"v":0},{"x":132,"y":6,"v":0},{"x":133,"y":6,"v":0},{"x":134,"y":6,"v":0},{"x":135,"y":6,"v":0},{"x":136,"y":6,"v":0},{"x":137,"y":6,"v":0},{"x":138,"y":6,"v":0},{"x":139,"y":6,"v":0},{"x":140,"y":6,"v":0},{"x":141,"y":6,"v":0},{"x":142,"y":6,"v":0},{"x":143,"y":6,"v":0},{"x":144,"y":6,"v":0},{"x":145,"y":6,"v":0},{"x":146,"y":6,"v":0},{"x":147,"y":6,"v":0},{"x":148,"y":6,"v":0},{"x":149,"y":6,"v":0},{"x":150,"y":6,"v":0},{"x":151,"y":6,"v":0},{"x":152,"y":6,"v":0},{"x":153,"y":6,"v":0},{"x":154,"y":6,"v":0},{"x":155,"y":6,"v":0},{"x":156,"y":6,"v":0},{"x":157,"y":6,"v":0},{"x":158,"y":6,"v":0},{"x":159,"y":6,"v":0},
{"x":0,"y":7,"v":0},{"x":1,"y":7,"v":0},{"x":2,"y":7,"v":0},{"x":3,"y":7,"v":0},{"x":4,"y":7,"v":0},{"x":5,"y":7,"v":0},{"x":6,"y":7,"v":0},{"x":7,"y":7,"v":0},{"x":8,"y":7,"v":0},{"x":9,"y":7,"v":0},{"x":10,"y":7,"v":0},{"x":11,"y":7,"v":0},{"x":12,"y":7,"v":0},{"x":13,"y":7,"v":0},{"x":14,"y":7,"v":0},{"x":15,"y":7,"v":0},{"x":16,"y":7,"v":0},{"x":17,"y":7,"v":0},{"x":18,"y":7,"v":0},{"x":19,"y":7,"v":0},{"x":20,"y":7,"v":0},{"x":21,"y":7,"v":0},{"x":22,"y":7,"v":0},{"x":23,"y":7,"v":0},{"x":24,"y":7,"v":0},{"x":25,"y":7,"v":0},{"x":26,"y":7,"v":0},{"x":27,"y":7,"v":0},{"x":28,"y":7,"v":0},{"x":29,"y":7,"v":0},{"x":30,"y":7,"v":0},{"x":31,"y":7,"v":0},{"x":32,"y":7,"v":0},{"x":33,"y":7,"v":0},{"x":34,"y":7,"v":0},{"x":35,"y":7,"v":0},{"x":36,"y":7,"v":0},{"x":37,"y":7,"v":0},{"x":38,"y":7,"v":0},{"x":39,"y":7,"v":0},{"x":40,"y":7,"v":0},{"x":41,"y":7,"v":0},{"x":42,"y":7,"v":0},{"x":43,"y":7,"v":0},{"x":44,"y":7,"v":0},{"x":45,"y":7,"v":0},{"x":46,"y":7,"v":0},{"x":47,"y":7,"v":0},{"x":48,"y":7,"v":0},{"x":49,"y":7,"v":0},{"x":50,"y":7,"v":0},{"x":51,"y":7,"v":0},{"x":52,"y":7,"v":0},{"x":53,"y":7,"v":0},{"x":54,"y":7,"v":0},{"x":55,"y":7,"v":0},{"x":56,"y":7,"v":0},{"x":57,"y":7,"v":0},{"x":58,"y":7,"v":0},{"x":59,"y":7,"v":0},{"x":60,"y":7,"v":0},{"x":61,"y":7,"v":0},{"x":62,"y":7,"v":0},{"x":63,"y":7,"v":0},{"x":64,"y":7,"v":0},{"x":65,"y":7,"v":0},{"x":66,"y":7,"v":0},{"x":67,"y":7,"v":0},{"x":68,"y":7,"v":0},{"x":69,"y":7,"v":0.55},{"x":70,"y":7,"v":0.55},{"x":71,"y":7,"v":0.48},{"x":72,"y":7,"v":1},{"x":73,"y":7,"v":1},{"x":74,"y":7,"v":1},{"x":75,"y":7,"v":0.8},{"x":76,"y":7,"v":0.3},{"x":77,"y":7,"v":1},{"x":78,"y":7,"v":1},{"x":79,"y":7,"v":1},{"x":80,"y":7,"v":0},{"x":81,"y":7,"v":0},{"x":82,"y":7,"v":0.95},{"x":83,"y":7,"v":1},{"x":84,"y":7,"v":1},{"x":85,"y":7,"v":1},{"x":86,"y":7,"v":1},{"x":87,"y":7,"v":0.42},{"x":88,"y":7,"v":0.6},{"x":89,"y":7,"v":1},{"x":90,"y":7,"v":1},{"x":91,"y":7,"v":1},{"x":92,"y":7,"v":1},{"x":93,"y":7,"v":1},{"x":94,"y":7,"v":1},{"x":95,"y":7,"v":1},{"x":96,"y":7,"v":1},{"x":97,"y":7,"v":1},{"x":98,"y":7,"v":1},{"x":99,"y":7,"v":1},{"x":100,"y":7,"v":1},{"x":101,"y":7,"v":1},{"x":102,"y":7,"v":1},{"x":103,"y":7,"v":1},{"x":104,"y":7,"v":1},{"x":105,"y":7,"v":1},{"x":106,"y":7,"v":1},{"x":107,"y":7,"v":1},{"x":108,"y":7,"v":1},{"x":109,"y":7,"v":1},{"x":110,"y":7,"v":1},{"x":111,"y":7,"v":1},{"x":112,"y":7,"v":1},{"x":113,"y":7,"v":1},{"x":114,"y":7,"v":1},{"x":115,"y":7,"v":1},{"x":116,"y":7,"v":0.88},{"x":117,"y":7,"v":0.17},{"x":118,"y":7,"v":1},{"x":119,"y":7,"v":1},{"x":120,"y":7,"v":1},{"x":121,"y":7,"v":1},{"x":122,"y":7,"v":0},{"x":123,"y":7,"v":0},{"x":124,"y":7,"v":0},{"x":125,"y":7,"v":0},{"x":126,"y":7,"v":0},{"x":127,"y":7,"v":0},{"x":128,"y":7,"v":0},{"x":129,"y":7,"v":0},{"x":130,"y":7,"v":0},{"x":131,"y":7,"v":0},{"x":132,"y":7,"v":0},{"x":133,"y":7,"v":1},{"x":134,"y":7,"v":0},{"x":135,"y":7,"v":1},{"x":136,"y":7,"v":0},{"x":137,"y":7,"v":1},{"x":138,"y":7,"v":1},{"x":139,"y":7,"v":1},{"x":140,"y":7,"v":1},{"x":141,"y":7,"v":1},{"x":142,"y":7,"v":1},{"x":143,"y":7,"v":1},{"x":144,"y":7,"v":1},{"x":145,"y":7,"v":1},{"x":146,"y":7,"v":1},{"x":147,"y":7,"v":1},{"x":148,"y":7,"v":1},{"x":149,"y":7,"v":1},{"x":150,"y":7,"v":1},{"x":151,"y":7,"v":1},{"x":152,"y":7,"v":1},{"x":153,"y":7,"v":1},{"x":154,"y":7,"v":1},{"x":155,"y":7,"v":1},{"x":156,"y":7,"v":1},{"x":157,"y":7,"v":1},{"x":158,"y":7,"v":1},{"x":159,"y":7,"v":1}
]}}
